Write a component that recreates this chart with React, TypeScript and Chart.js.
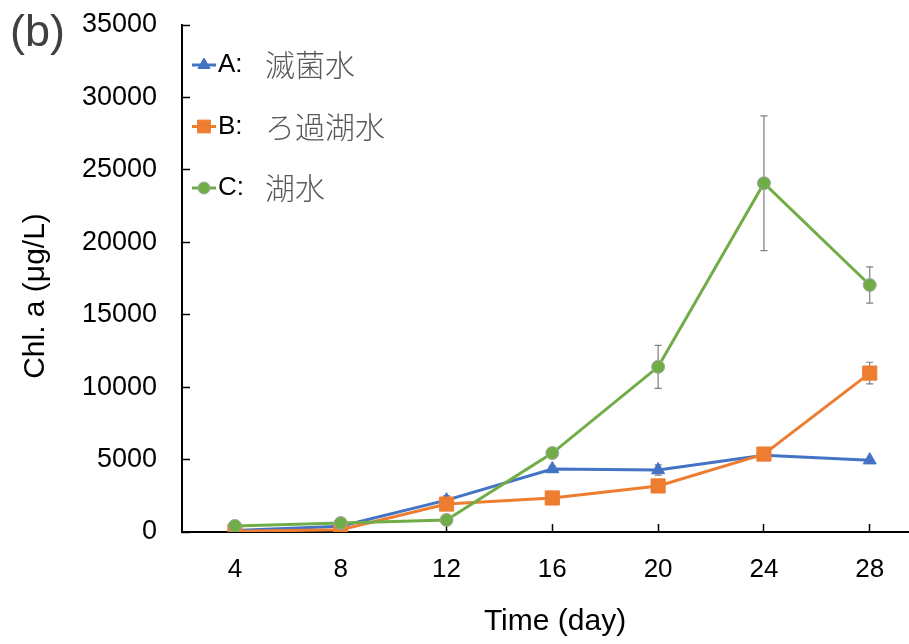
import React, { useEffect, useRef } from "react";
import { Chart, registerables } from "chart.js";
import { drawPoint } from "chart.js/helpers";

Chart.register(...registerables);

const days = [4, 8, 12, 16, 20, 24, 28];
const seriesA = [100, 400, 2200, 4350, 4280, 5300, 4960];
const seriesB = [50, 150, 1930, 2350, 3180, 5380, 10970];
const seriesC = [420, 620, 830, 5450, 11400, 24080, 17050];
const errA = [0, 0, 300, 200, 350, 0, 0];
const errB = [0, 0, 0, 0, 0, 0, 750];
const errC = [0, 0, 0, 0, 1480, 4650, 1250];
const xTicks = [4, 8, 12, 16, 20, 24, 28];
const yTicks = [0, 5000, 10000, 15000, 20000, 25000, 30000, 35000];
const legendLatin = ["A:", "B:", "C:"];
const legendJa = ["滅菌水", "ろ過湖水", "湖水"];
const panelLabel = "(b)";
const xTitle = "Time (day)";
const yTitle = "Chl. a (μg/L)";

const BLUE = "#4472C4";
const ORANGE = "#ED7D31";
const GREEN = "#70AD47";
const LATIN = '"Liberation Sans", Arial, sans-serif';
const CJK = '"Noto Sans CJK JP", "Noto Sans CJK SC", sans-serif';

const errors = [errA, errB, errC];

const errorBarPlugin = {
  id: "errorBars",
  beforeDatasetsDraw(chart: any) {
    const { ctx, scales } = chart;
    const xs = scales.x;
    const ys = scales.y;
    ctx.save();
    ctx.strokeStyle = "#7f7f7f";
    ctx.lineWidth = 1.2;
    chart.data.datasets.forEach((ds: any, i: number) => {
      const errs = errors[i];
      ds.data.forEach((p: any, j: number) => {
        const e = errs[j];
        if (!e) return;
        const x = xs.getPixelForValue(p.x);
        const y1 = ys.getPixelForValue(p.y + e);
        const y2 = ys.getPixelForValue(p.y - e);
        ctx.beginPath();
        ctx.moveTo(x, y1);
        ctx.lineTo(x, y2);
        ctx.moveTo(x - 3.5, y1);
        ctx.lineTo(x + 3.5, y1);
        ctx.moveTo(x - 3.5, y2);
        ctx.lineTo(x + 3.5, y2);
        ctx.stroke();
      });
    });
    ctx.restore();
  },
};

const textPlugin = {
  id: "texts",
  afterDraw(chart: any) {
    const ctx = chart.ctx;
    ctx.save();
    ctx.fillStyle = "#404040";
    ctx.font = `45px ${LATIN}`;
    ctx.textAlign = "left";
    ctx.textBaseline = "middle";
    ctx.fillText(panelLabel, 10, 34);

    ctx.fillStyle = "#000";
    ctx.font = `30px ${LATIN}`;
    ctx.textAlign = "center";
    ctx.textBaseline = "middle";
    ctx.fillText(xTitle, 555, 622);

    ctx.save();
    ctx.translate(36, 296);
    ctx.rotate(-Math.PI / 2);
    ctx.fillText(yTitle, 0, 0);
    ctx.restore();

    const styles = ["triangle", "rect", "circle"];
    const colors = [BLUE, ORANGE, GREEN];
    const radii = [7, 9, 6];
    for (let i = 0; i < 3; i++) {
      const y = 65 + i * 61.5;
      ctx.strokeStyle = colors[i];
      ctx.lineWidth = 3;
      ctx.beginPath();
      ctx.moveTo(192, y);
      ctx.lineTo(216, y);
      ctx.stroke();
      ctx.fillStyle = colors[i];
      ctx.strokeStyle = i === 2 ? "#a5a5a5" : colors[i];
      ctx.lineWidth = 1;
      drawPoint(ctx, { pointStyle: styles[i], radius: radii[i], rotation: 0, borderWidth: 1 } as any, 204, y);
      ctx.fillStyle = "#000";
      ctx.font = `26px ${LATIN}`;
      ctx.textAlign = "left";
      ctx.textBaseline = "middle";
      ctx.fillText(legendLatin[i], 218, y);
      ctx.fillStyle = "#595959";
      ctx.font = `300 30px ${CJK}`;
      ctx.fillText(legendJa[i], 265, y);
    }
    ctx.restore();
  },
};

const zeroPad = (s: any) => {
  s.paddingLeft = 0;
  s.paddingRight = 0;
  s.paddingTop = 0;
  s.paddingBottom = 0;
};

export default function App() {
  const ref = useRef<HTMLCanvasElement | null>(null);
  useEffect(() => {
    document.body.style.margin = "0";
    const canvas = ref.current!;
    const mk = (vals: number[]) => days.map((d, i) => ({ x: d, y: vals[i] }));
    const chart = new Chart(canvas, {
      type: "line",
      data: {
        datasets: [
          {
            label: "A",
            data: mk(seriesA),
            borderColor: BLUE,
            backgroundColor: BLUE,
            borderWidth: 3,
            pointStyle: "triangle",
            pointRadius: 7.5,
            pointBorderWidth: 1,
            pointBorderColor: BLUE,
            order: 3,
          },
          {
            label: "B",
            data: mk(seriesB),
            borderColor: ORANGE,
            backgroundColor: ORANGE,
            borderWidth: 3,
            pointStyle: "rect",
            pointRadius: 10,
            pointBorderWidth: 1,
            pointBorderColor: ORANGE,
            order: 2,
          },
          {
            label: "C",
            data: mk(seriesC),
            borderColor: GREEN,
            backgroundColor: GREEN,
            borderWidth: 3,
            pointStyle: "circle",
            pointRadius: 6.5,
            pointBorderWidth: 1,
            pointBorderColor: "#a5a5a5",
            order: 1,
          },
        ],
      },
      options: {
        animation: false,
        responsive: false,
        devicePixelRatio: 1,
        layout: { padding: { left: 0, top: 25, right: 0, bottom: 0 } },
        plugins: {
          legend: { display: false },
          tooltip: { enabled: false },
        },
        scales: {
          x: {
            type: "linear",
            min: 2,
            max: 29.56,
            afterBuildTicks: (s: any) => {
              s.ticks = xTicks.map((v) => ({ value: v }));
            },
            afterFit: (s: any) => {
              s.height = 112;
              zeroPad(s);
            },
            grid: {
              drawOnChartArea: false,
              drawTicks: true,
              tickLength: -8,
              tickColor: "#000",
              tickWidth: 1.5,
            },
            border: { color: "#000", width: 2 },
            ticks: {
              color: "#000",
              font: { family: LATIN, size: 26 },
              padding: 30,
              maxRotation: 0,
              autoSkip: false,
              callback: (v: any) => String(v),
            },
          },
          y: {
            type: "linear",
            min: 0,
            max: 35000,
            afterBuildTicks: (s: any) => {
              s.ticks = yTicks.map((v) => ({ value: v }));
            },
            afterFit: (s: any) => {
              s.width = 182;
              zeroPad(s);
            },
            grid: {
              drawOnChartArea: false,
              drawTicks: true,
              tickLength: -8,
              tickColor: "#000",
              tickWidth: 1.5,
            },
            border: { color: "#000", width: 2 },
            ticks: {
              color: "#000",
              font: { family: LATIN, size: 27 },
              padding: 33,
              callback: (v: any) => String(v),
            },
          },
        },
      },
      plugins: [errorBarPlugin, textPlugin],
    } as any);
    return () => chart.destroy();
  }, []);
  return (
    <div style={{ width: 909, height: 644, overflow: "hidden", background: "#fff" }}>
      <canvas ref={ref} width={922} height={644} style={{ display: "block" }} />
    </div>
  );
}
